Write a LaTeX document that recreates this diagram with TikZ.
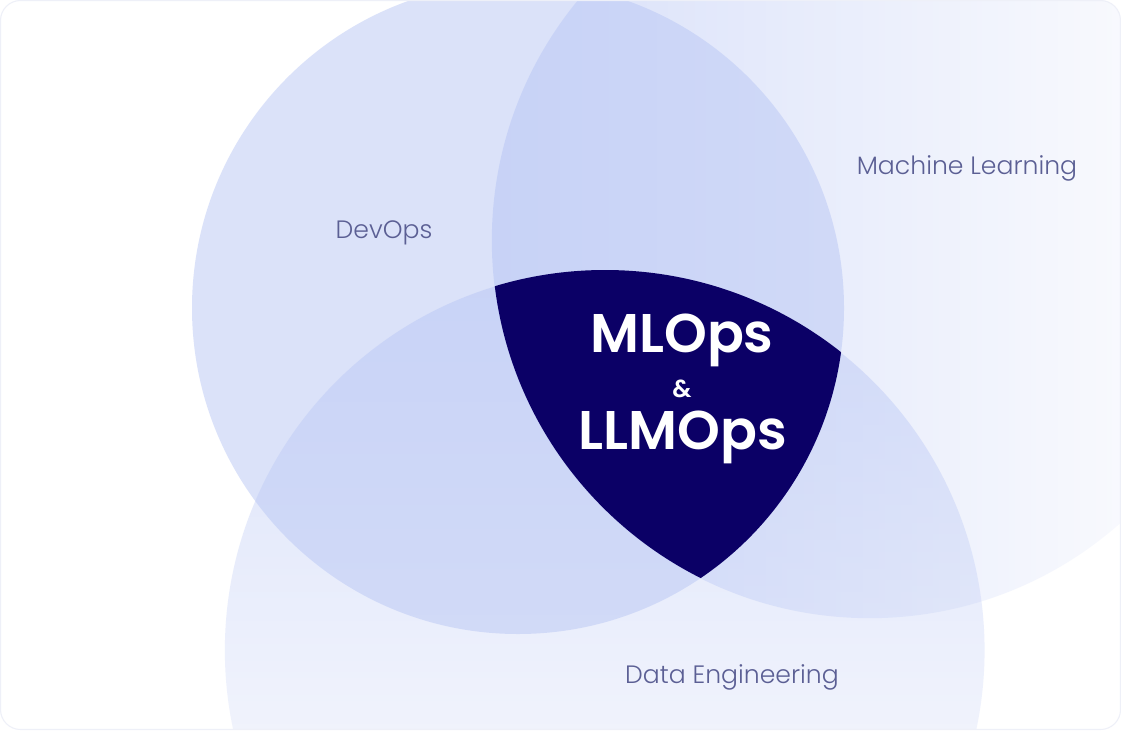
\documentclass[tikz,border=0pt]{standalone}
\usepackage{fontspec}
\setmainfont{Poppins}
\newfontfamily\poplight{Poppins Light}
\newfontfamily\popsemi{Poppins SemiBold}
\usetikzlibrary{fadings}
\definecolor{vblue}{HTML}{B8C6F5}
\definecolor{navy}{HTML}{0B0066}
\definecolor{lbl}{HTML}{5B5F94}
\definecolor{frame}{HTML}{EEF0F8}
\tikzfading[name=fademl, left color=transparent!45, right color=transparent!100]
\tikzfading[name=fadede, top color=transparent!48, middle color=transparent!91, bottom color=transparent!100]
\tikzset{
  setlabel/.style={text=lbl, font=\poplight\fontsize{14.3}{17}\selectfont, inner sep=0pt},
  bigtext/.style={text=white, font=\popsemi\fontsize{31}{34}\selectfont, inner sep=0pt},
}
\begin{document}
\begin{tikzpicture}[x=0.02cm, y=-0.02cm]
\useasboundingbox (0,0) rectangle (1121,730);
\coordinate (devc) at (518,308);
\coordinate (mlc) at (870,240);
\coordinate (dec) at (605,650);
\fill[white] (0,0) rectangle (1121,730);
\begin{scope}
  \clip[rounded corners=0.4cm] (0.5,0.5) rectangle (1120.5,729.5);
  \fill[vblue, fill opacity=0.5] (devc) circle[radius=326];
  \fill[vblue, path fading=fademl] (mlc) circle[radius=378];
  \fill[vblue, path fading=fadede] (dec) circle[radius=380];
  \begin{scope}
    \clip (devc) circle[radius=326];
    \clip (mlc) circle[radius=378];
    \fill[navy] (dec) circle[radius=380];
  \end{scope}
\end{scope}
\draw[frame, line width=0.6pt, rounded corners=0.4cm] (0.5,0.5) rectangle (1120.5,729.5);
\node[setlabel] (devops) at (384,233) {DevOps};
\node[setlabel] (ml) at (967,168) {Machine Learning};
\node[setlabel] (de) at (732,677) {Data Engineering};
\node[bigtext] (mlops) at (682,340) {MLOps};
\node[text=white, font=\popsemi\fontsize{14}{17}\selectfont, inner sep=0pt] (amp) at (682,389) {\&};
\node[bigtext] (llmops) at (683,437) {LLMOps};
\end{tikzpicture}
\end{document}
